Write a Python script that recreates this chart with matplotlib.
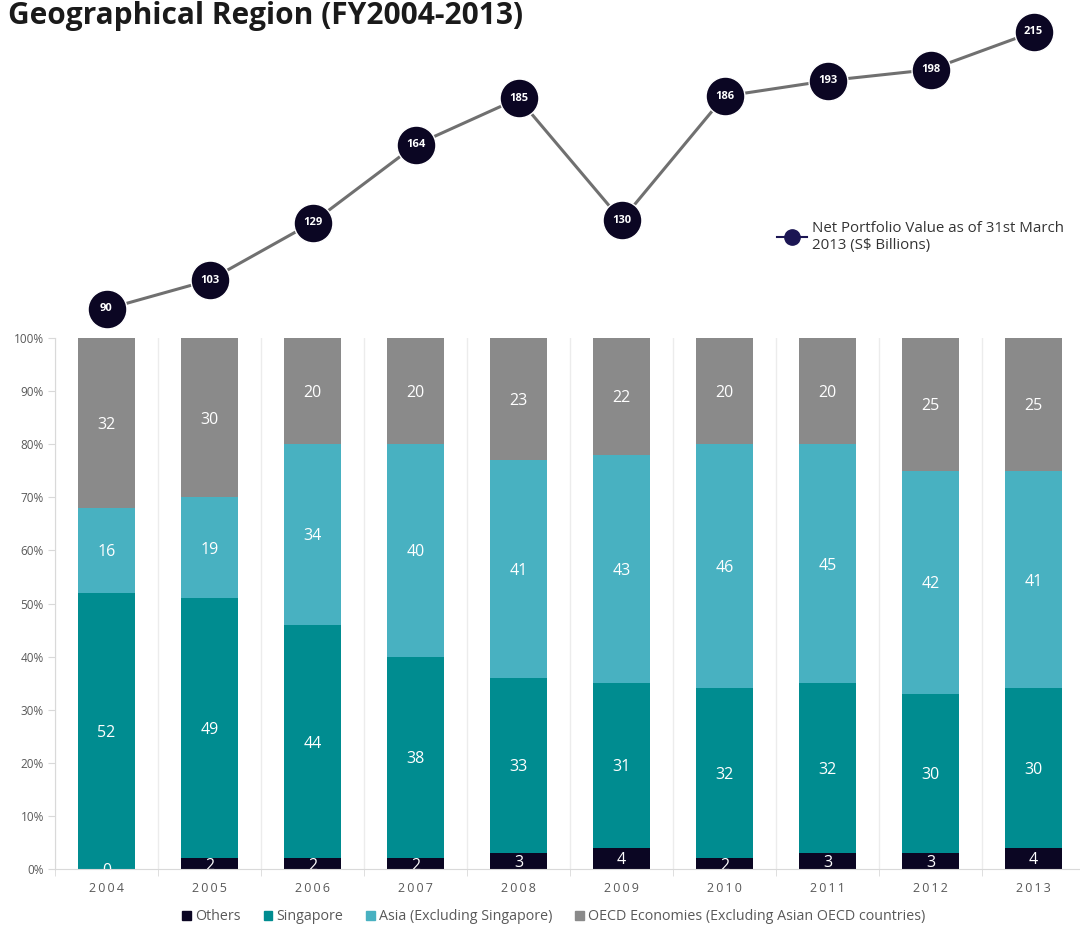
import numpy as np
import matplotlib
matplotlib.use('Agg')
import matplotlib.pyplot as plt
from matplotlib.lines import Line2D
from matplotlib.patches import Patch

plt.rcParams['font.family'] = ['Open Sans', 'DejaVu Sans']

# -----------------------------------------------------------------------------

years = ['2004', '2005', '2006', '2007', '2008', '2009', '2010', '2011', '2012', '2013']
others = [0, 2, 2, 2, 3, 4, 2, 3, 3, 4]
singapore = [52, 49, 44, 38, 33, 31, 32, 32, 30, 30]
asia = [16, 19, 34, 40, 41, 43, 46, 45, 42, 41]
oecd = [32, 30, 20, 20, 23, 22, 20, 20, 25, 25]
portfolio = [90, 103, 129, 164, 185, 130, 186, 193, 198, 215]

series = [
    ('Others', others, '#0b0623'),
    ('Singapore', singapore, '#008c90'),
    ('Asia (Excluding Singapore)', asia, '#48b1c1'),
    ('OECD Economies (Excluding Asian OECD countries)', oecd, '#8a8a8a'),
]

# -----------------------------------------------------------------------------

W, H = 1080, 927
fig = plt.figure(figsize=(W / 100, H / 100), dpi=100)

def box(x0, y0, x1, y1):
    return [x0 / W, 1 - y1 / H, (x1 - x0) / W, (y1 - y0) / H]

ax = fig.add_axes(box(55, 338, 1085, 869))
x = np.arange(len(years))
bottom = np.zeros(len(years))
for name, vals, col in series:
    vals = np.array(vals)
    ax.bar(x, vals, width=0.55, bottom=bottom, color=col, zorder=2)
    for xi, b, v in zip(x, bottom, vals):
        ax.text(xi, b + v / 2, str(v), ha='center', va='center_baseline',
                color='white', fontsize=11.5, clip_on=True, zorder=3)
    bottom += vals

ax.set_xlim(-0.5, len(years) - 0.5)
ax.set_ylim(0, 100)
ax.set_yticks(np.arange(0, 101, 10))
ax.set_yticklabels(['%d%%' % v for v in range(0, 101, 10)])
ax.set_xticks(x)
ax.set_xticklabels([' '.join(y).replace(' ', '\u2009') for y in years])
ax.set_xticks(np.arange(-0.5, len(years)), minor=True)
ax.tick_params(axis='x', which='major', length=0, pad=9, labelsize=9,
               labelcolor='#595959')
ax.tick_params(axis='x', which='minor', length=5, color='#d9d9d9')
ax.tick_params(axis='y', length=5, color='#d9d9d9', labelsize=8.5,
               labelcolor='#595959', pad=3)
ax.grid(axis='x', which='minor', color='#ececec', linewidth=1, zorder=0)
for s in ['top', 'right']:
    ax.spines[s].set_visible(False)
ax.spines['left'].set_color('#d9d9d9')
ax.spines['bottom'].set_color('#d9d9d9')

handles = [Patch(color=c, label=n) for n, _, c in series]
fig.legend(handles=handles, loc='center', bbox_to_anchor=(554 / W, 1 - 917 / H),
           ncol=4, frameon=False, fontsize=10.3, handlelength=0.6,
           handleheight=0.6, handletextpad=0.3, columnspacing=1.6,
           labelcolor='#595959')

# -----------------------------------------------------------------------------

ax2 = fig.add_axes(box(55, 0, 1085, 338))
ax2.plot(x, portfolio, color='#707070', linewidth=2.2, zorder=2)
ax2.plot(x, portfolio, 'o', color='#0b0623', markersize=28,
         markeredgecolor='white', markeredgewidth=1, zorder=3)
for xi, v in zip(x, portfolio):
    ax2.text(xi, v, str(v), ha='center', va='center', color='white',
             fontsize=8, fontweight='bold', zorder=4)
ax2.set_xlim(-0.5, len(years) - 0.5)
ax2.set_ylim(76.9, 229.4)
ax2.axis('off')

leg_h = [Line2D([0], [0], color='#1b1553', marker='o', markersize=11,
                linewidth=1.5)]
fig.legend(handles=leg_h,
           labels=['Net Portfolio Value as of 31st March\n2013 (S$ Billions)'],
           loc='upper left', bbox_to_anchor=(763 / W, 1 - 207 / H),
           frameon=False, fontsize=10.8, handlelength=2.0, handletextpad=0.4,
           labelcolor='#333333')

fig.text(8 / W, 1 - 16 / H, 'Geographical Region (FY2004-2013)',
         fontsize=21.5, fontweight='bold', color='#1a1a1a', va='center')

fig.savefig('out.png', dpi=100)
